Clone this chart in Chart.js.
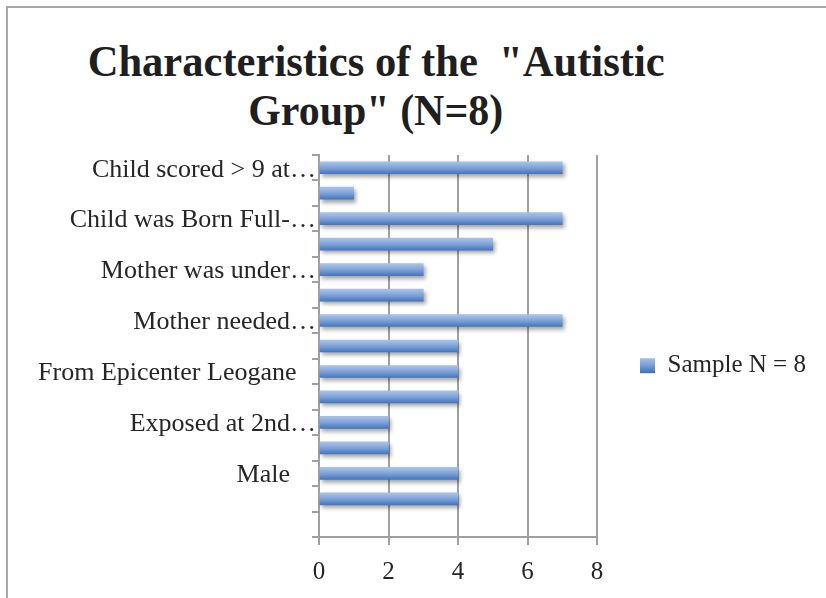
<!DOCTYPE html>
<html><head><meta charset="utf-8">
<script src="https://cdn.jsdelivr.net/npm/chart.js@4.4.1/dist/chart.umd.min.js"></script>
<style>
html,body{margin:0;padding:0;background:#fff;overflow:hidden;}
#wrap{position:relative;width:826px;height:598px;overflow:hidden;background:#fff;}
#frame{position:absolute;left:6px;top:6px;width:900px;height:700px;border:2px solid #a6a6a6;box-sizing:border-box;}
.tl{position:absolute;white-space:pre;font-family:'Liberation Serif',serif;font-weight:bold;font-size:44px;line-height:44px;color:#1f1f1f;transform-origin:center top;}
.pre{position:absolute;left:-999px;top:0;font-family:'Liberation Serif',serif;font-size:25px;}
canvas{position:absolute;left:0;top:0;}
</style></head>
<body>
<div id="wrap">
  <div id="frame"></div>
  <div class="pre">Sample N = 8</div>
  <div class="tl" id="t1">Characteristics of the  "Autistic</div>
  <div class="tl" id="t2">Group" (N=8)</div>
  <canvas id="c" width="826" height="598"></canvas>
</div>
<script>
const categories = ["Child scored > 9 at\u2026", "", "Child was Born Full-\u2026", "", "Mother was under\u2026", "", "Mother needed\u2026", "", "From Epicenter Leogane   ", "", "Exposed at 2nd\u2026", "", "Male    ", "", ""];
const sampleValues = [7, 1, 7, 5, 3, 3, 7, 4, 4, 4, 2, 2, 4, 4, null];
const seriesName = "Sample N = 8";
const xMin = 0, xMax = 8, xStep = 2;

function placeTitle(id, centerX, top, targetW) {
  const el = document.getElementById(id);
  const w = el.getBoundingClientRect().width;
  const s = targetW / w;
  el.style.left = (centerX - w / 2) + 'px';
  el.style.top = top + 'px';
  el.style.transform = 'scaleX(' + s + ')';
}

const FONT = "'Liberation Serif', serif";
const FS = 25;
const TXT = '#262626';
const GRID = '#a0a0a0';
const LEG_PAD = 43, LEG_TITLE_PAD = 154, BOX = 15;

function blueGradient(ctx, y0, h) {
  const g = ctx.createLinearGradient(0, y0, 0, y0 + h);
  g.addColorStop(0, '#a5bfe5');
  g.addColorStop(0.45, '#7ba0d6');
  g.addColorStop(1, '#3b6fbb');
  return g;
}

const shadowPlugin = {
  id: 'barShadow',
  beforeDatasetsDraw(chart) {
    const ctx = chart.ctx;
    ctx.save();
    ctx.shadowColor = 'rgba(0,0,0,0.35)';
    ctx.shadowBlur = 4;
    ctx.shadowOffsetX = 2;
    ctx.shadowOffsetY = 3;
  },
  afterDatasetsDraw(chart) { chart.ctx.restore(); }
};

function barFill(c) {
  const chart = c.chart;
  if (c.type !== 'data' || !chart.scales || !chart.scales.y) return '#6690cd';
  const y = chart.scales.y.getPixelForValue(c.dataIndex) + 1;
  if (!isFinite(y)) return '#6690cd';
  const h = 12;
  return blueGradient(chart.ctx, y - h / 2, h);
}

function build() {
  placeTitle('t1', 376, 40, 577);
  placeTitle('t2', 376, 89, 255);
  new Chart(document.getElementById('c'), {
    type: 'bar',
    data: {
      labels: categories,
      datasets: [{
        label: seriesName,
        data: sampleValues,
        backgroundColor: barFill,
        borderWidth: 0,
        barThickness: 12
      }]
    },
    plugins: [shadowPlugin],
    options: {
      indexAxis: 'y',
      responsive: false,
      animation: false,
      events: [],
      layout: { padding: { left: 8, top: 155, right: 20, bottom: 0 } },
      plugins: {
        title: { display: false },
        tooltip: { enabled: false },
        legend: {
          position: 'right',
          align: 'start',
          maxWidth: 209,
          title: { display: true, text: ' ', font: { size: 1 }, padding: { top: LEG_TITLE_PAD, bottom: 0 } },
          labels: {
            boxWidth: BOX, boxHeight: BOX, padding: LEG_PAD, color: TXT,
            font: { family: FONT, size: FS },
            generateLabels(chart) {
              let fill = '#6690cd';
              const lg = chart.legend;
              if (lg && isFinite(lg.top)) {
                const y0 = lg.top + 1.2 + LEG_TITLE_PAD + LEG_PAD + (FS - BOX) / 2;
                fill = blueGradient(chart.ctx, y0, BOX);
              }
              return [{ text: seriesName, fillStyle: fill, strokeStyle: 'rgba(0,0,0,0)', lineWidth: 0, datasetIndex: 0, fontColor: TXT }];
            }
          }
        }
      },
      scales: {
        x: {
          min: xMin, max: xMax,
          ticks: { stepSize: xStep, color: TXT, font: { family: FONT, size: FS }, padding: 12 },
          grid: { color: GRID, lineWidth: 2, tickLength: 8, drawTicks: true },
          border: { color: GRID, width: 2 },
          afterFit(s) { s.height = 61; }
        },
        y: {
          type: 'category',
          offset: true,
          ticks: { autoSkip: false, color: TXT, font: { family: FONT, size: 26 }, padding: -4, labelOffset: 2 },
          grid: { display: true, drawOnChartArea: false, offset: true, tickLength: 7, color: GRID, lineWidth: 2 },
          border: { color: GRID, width: 2 },
          afterFit(s) { s.width = 311; }
        }
      }
    }
  });
}

if (document.fonts && document.fonts.load) {
  Promise.all([
    document.fonts.load("25px 'Liberation Serif'"),
    document.fonts.load("bold 44px 'Liberation Serif'")
  ]).then(build, build);
} else {
  build();
}
</script>
</body></html>
